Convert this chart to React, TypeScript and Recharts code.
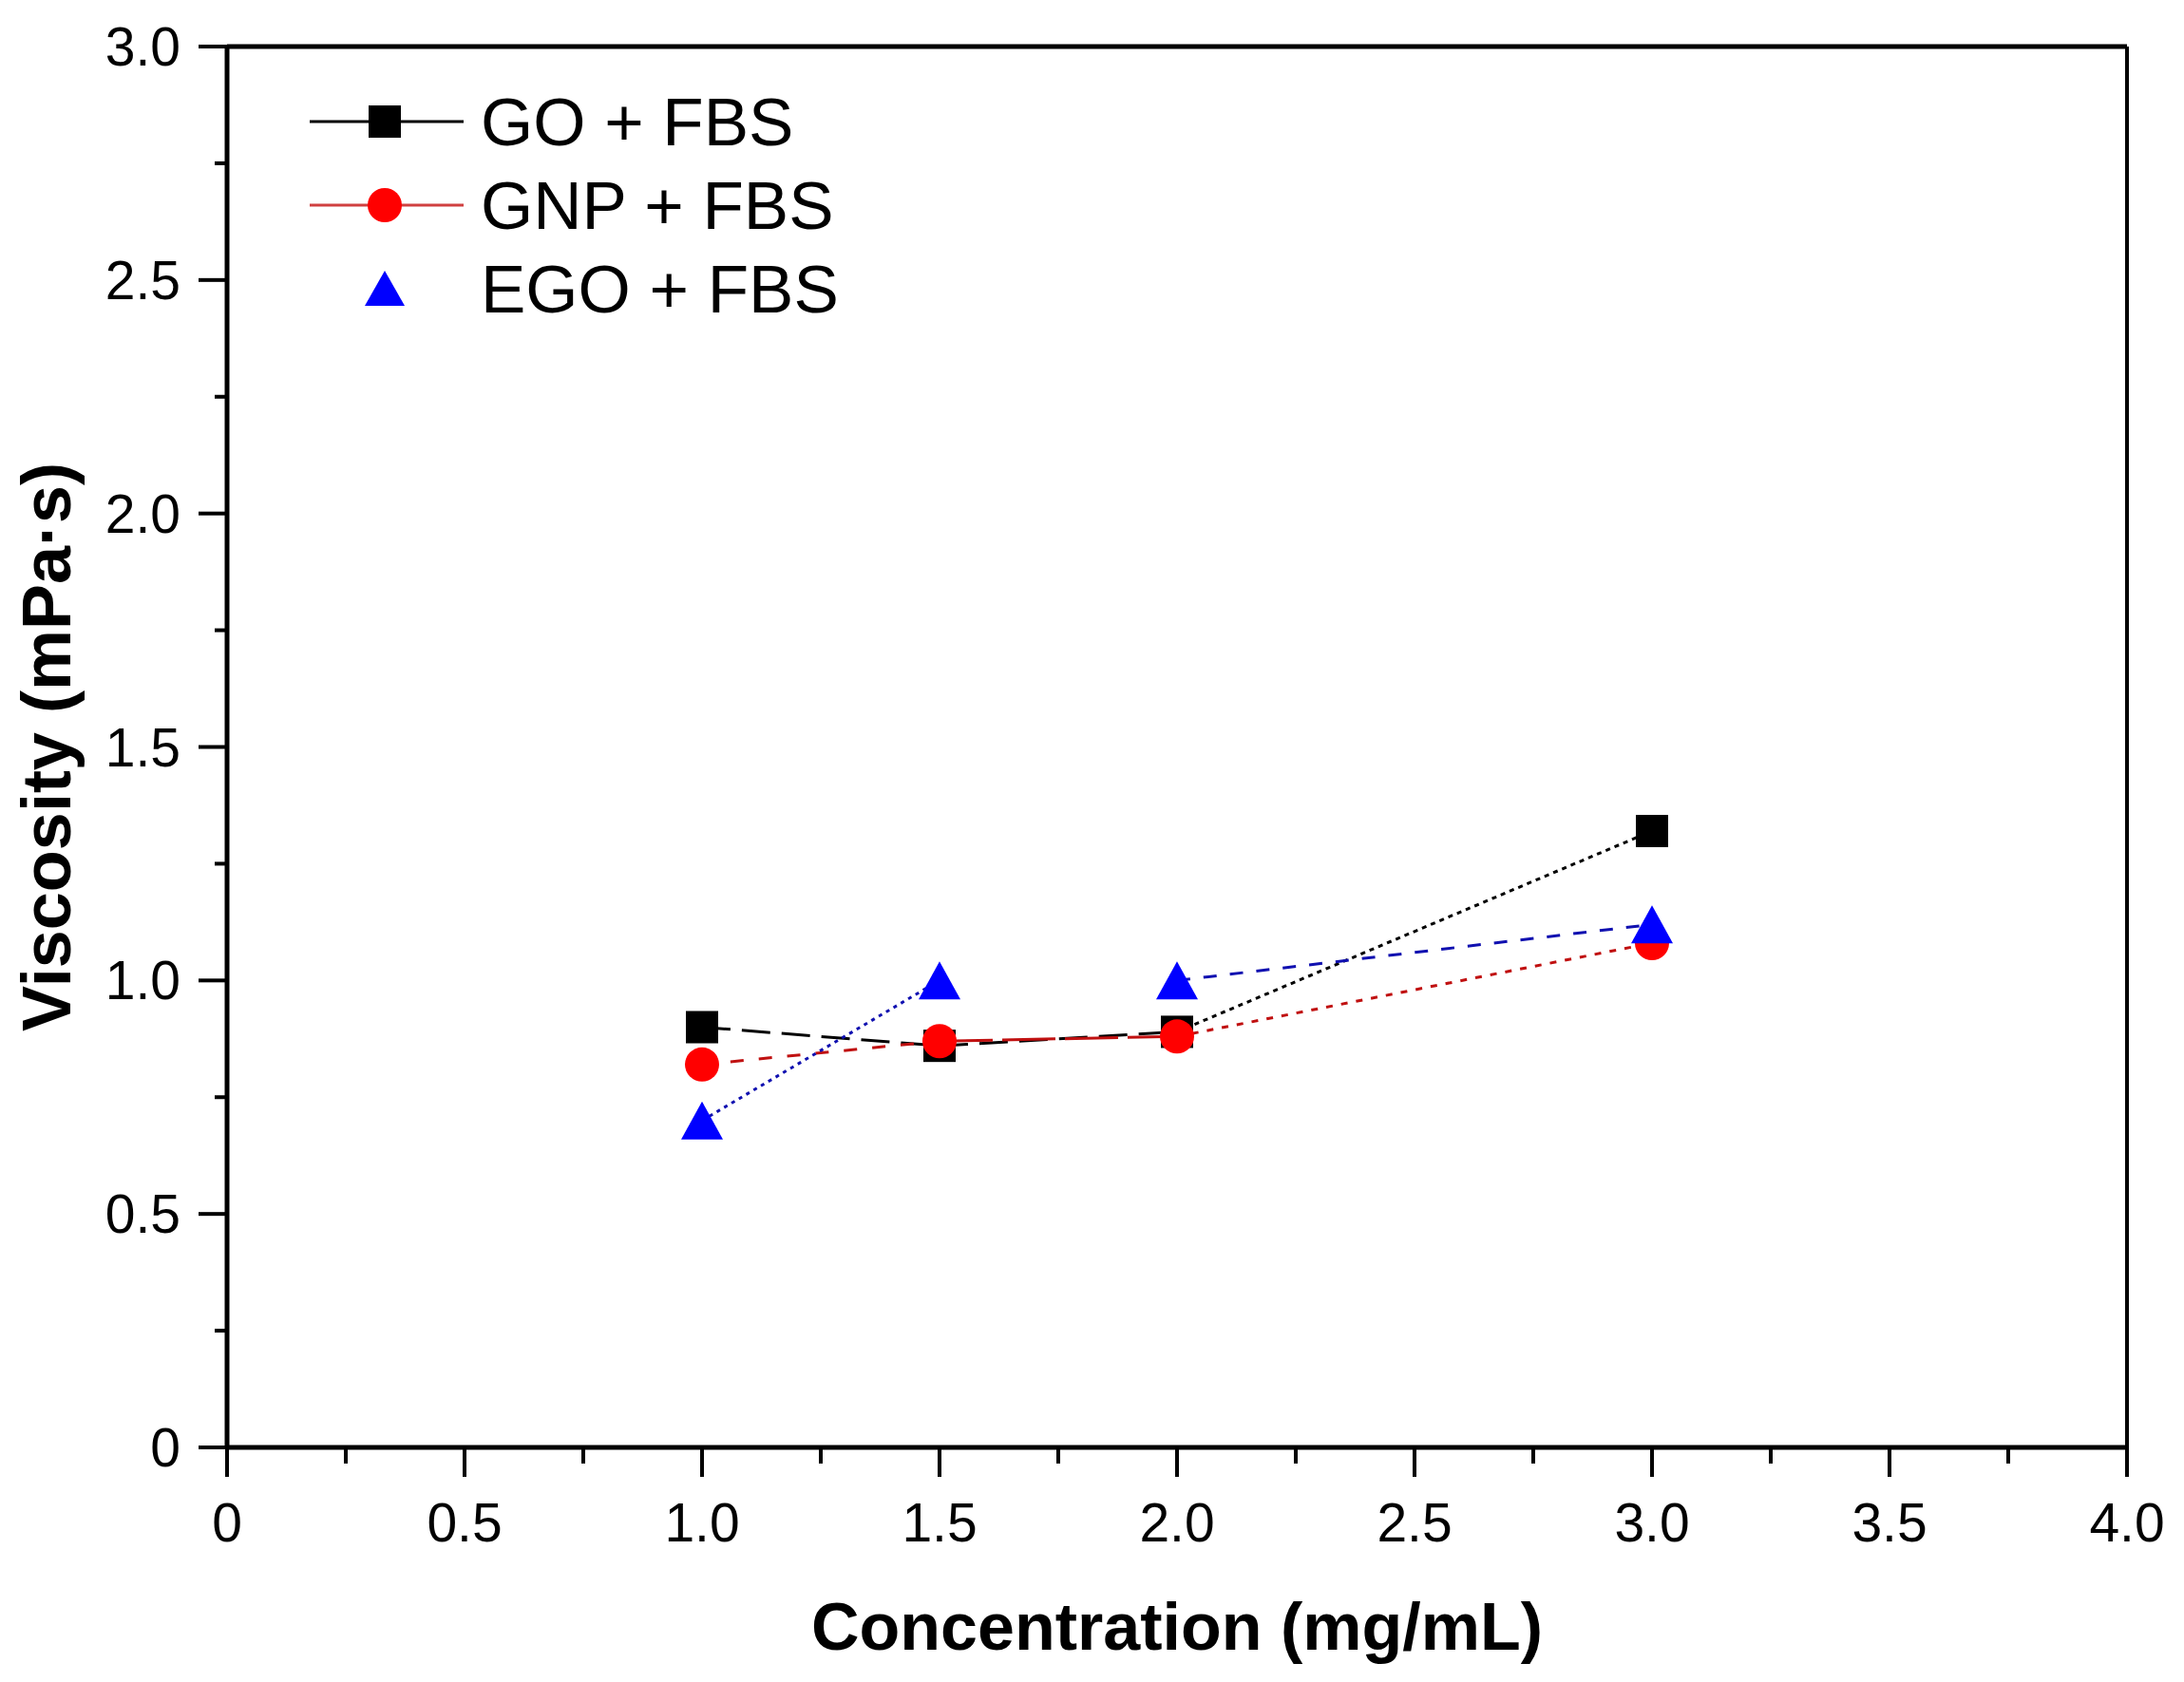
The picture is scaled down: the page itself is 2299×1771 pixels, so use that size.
import React from 'react';
import { ComposedChart, Line, XAxis, YAxis, ReferenceLine, Legend } from 'recharts';

// values
const concentration = [1.0, 1.5, 2.0, 3.0];
const goFbs = [0.9, 0.86, 0.89, 1.32];
const gnpFbs = [0.82, 0.87, 0.88, 1.08];
const egoFbs = [0.7, 1.0, 1.0, 1.12];

const seriesNames = ['GO + FBS', 'GNP + FBS', 'EGO + FBS'];

const xMajorTicks = [0, 0.5, 1, 1.5, 2, 2.5, 3, 3.5, 4];
const xMinorTicks = [0.25, 0.75, 1.25, 1.75, 2.25, 2.75, 3.25, 3.75];
const yMajorTicks = [0, 0.5, 1, 1.5, 2, 2.5, 3];
const yMinorTicks = [0.25, 0.75, 1.25, 1.75, 2.25, 2.75];

// dash style of each segment between neighbouring points (null = no line)
const goDash = ['30 12', '30 12', '5 5'];
const gnpDash = ['14 16', '56 10', '7 9'];
const egoDash = ['4 5', null, '14 14'];

const FONT = '"Liberation Sans", Arial, Helvetica, sans-serif';

const fmt = (v: number) => (v === 0 ? '0' : v.toFixed(1));

const toPoints = (values: number[]) =>
  concentration.map((c, i) => ({ x: c, y: values[i] }));

const toSegments = (values: number[], dashes: (string | null)[]) =>
  dashes
    .map((d, i) =>
      d
        ? {
            dash: d,
            data: [
              { x: concentration[i], y: values[i] },
              { x: concentration[i + 1], y: values[i + 1] },
            ],
          }
        : null
    )
    .filter(Boolean) as { dash: string; data: { x: number; y: number }[] }[];

const XTick = (p: any) => {
  const v = p.payload.value;
  const major = xMajorTicks.includes(v);
  return (
    <g>
      <line x1={p.x} x2={p.x} y1={p.y} y2={p.y + (major ? 31 : 17)} stroke="#000" strokeWidth={4} />
      {major && (
        <text x={p.x} y={p.y + 99} textAnchor="middle" fontSize={57} fontFamily={FONT} fill="#000">
          {fmt(v)}
        </text>
      )}
    </g>
  );
};

const YTick = (p: any) => {
  const v = p.payload.value;
  const major = yMajorTicks.includes(v);
  return (
    <g>
      <line x1={p.x - (major ? 30 : 13)} x2={p.x} y1={p.y} y2={p.y} stroke="#000" strokeWidth={4} />
      {major && (
        <text x={p.x - 49} y={p.y + 20} textAnchor="end" fontSize={57} fontFamily={FONT} fill="#000">
          {fmt(v)}
        </text>
      )}
    </g>
  );
};

const square = (p: any) => (
  <rect key={`sq-${p.index}`} x={p.cx - 17} y={p.cy - 17} width={34} height={34} fill="#000" />
);
const circle = (p: any) => (
  <ellipse key={`ci-${p.index}`} cx={p.cx} cy={p.cy} rx={18} ry={18} fill="#ff0000" />
);
const triangle = (p: any) => (
  <polygon
    key={`tr-${p.index}`}
    points={`${p.cx - 22},${p.cy + 20} ${p.cx + 22},${p.cy + 20} ${p.cx},${p.cy - 20}`}
    fill="#0000ff"
  />
);

const LegendBox = () => {
  const rows = [128, 216, 304];
  return (
    <svg width={900} height={380} style={{ display: 'block' }}>
      <line x1={326} x2={488} y1={rows[0]} y2={rows[0]} stroke="#000" strokeWidth={3} />
      <rect x={388} y={rows[0] - 17} width={34} height={34} fill="#000" />
      <line x1={326} x2={488} y1={rows[1]} y2={rows[1]} stroke="#d04040" strokeWidth={3} />
      <circle cx={405} cy={rows[1]} r={18} fill="#ff0000" />
      <polygon
        points={`${405 - 21},${rows[2] + 18} ${405 + 21},${rows[2] + 18} 405,${rows[2] - 19}`}
        fill="#0000ff"
      />
      {seriesNames.map((n, i) => (
        <text key={n} x={506} y={rows[i] + 25} fontSize={71} fontFamily={FONT} fill="#000">
          {n}
        </text>
      ))}
    </svg>
  );
};

const goSegs = toSegments(goFbs, goDash);
const gnpSegs = toSegments(gnpFbs, gnpDash);
const egoSegs = toSegments(egoFbs, egoDash);

export default function App() {
  return (
    <div style={{ position: 'absolute', left: 0, top: 0, width: 2299, height: 1771, background: '#fff' }}>
      <ComposedChart width={2299} height={1771} margin={{ top: 49, right: 60, bottom: 0, left: 0 }}>
        <XAxis
          type="number"
          dataKey="x"
          domain={[0, 4]}
          ticks={[...xMajorTicks, ...xMinorTicks].sort((a, b) => a - b)}
          interval={0}
          height={247}
          tickSize={0}
          tickMargin={0}
          tickLine={false}
          tick={<XTick />}
          axisLine={{ stroke: '#000', strokeWidth: 5 }}
          allowDataOverflow
          label={{
            value: 'Concentration (mg/mL)',
            position: 'insideBottom',
            offset: 34,
            style: { fontFamily: FONT, fontSize: 70, fontWeight: 'bold', fill: '#000' },
          }}
        />
        <YAxis
          type="number"
          domain={[0, 3]}
          ticks={[...yMajorTicks, ...yMinorTicks].sort((a, b) => a - b)}
          interval={0}
          width={239}
          tickSize={0}
          tickMargin={0}
          tickLine={false}
          tick={<YTick />}
          axisLine={{ stroke: '#000', strokeWidth: 5 }}
          allowDataOverflow
          label={{
            value: 'Viscosity (mPa·s)',
            angle: -90,
            position: 'insideLeft',
            offset: 48,
            style: { textAnchor: 'middle', fontFamily: FONT, fontSize: 72, fontWeight: 'bold', fill: '#000' },
          }}
        />
        <ReferenceLine y={3} stroke="#000" strokeWidth={5} />
        <ReferenceLine x={4} stroke="#000" strokeWidth={4} />

        {goSegs.map((s, i) => (
          <Line key={`go-${i}`} data={s.data} dataKey="y" stroke="#000" strokeWidth={3}
            strokeDasharray={s.dash} dot={false} activeDot={false} isAnimationActive={false} />
        ))}
        {gnpSegs.map((s, i) => (
          <Line key={`gnp-${i}`} data={s.data} dataKey="y" stroke="#c01010" strokeWidth={3}
            strokeDasharray={s.dash} dot={false} activeDot={false} isAnimationActive={false} />
        ))}
        {egoSegs.map((s, i) => (
          <Line key={`ego-${i}`} data={s.data} dataKey="y" stroke="#1010b0" strokeWidth={3}
            strokeDasharray={s.dash} dot={false} activeDot={false} isAnimationActive={false} />
        ))}

        <Line data={toPoints(goFbs)} dataKey="y" name={seriesNames[0]} stroke="none" dot={square}
          activeDot={false} isAnimationActive={false} />
        <Line data={toPoints(gnpFbs)} dataKey="y" name={seriesNames[1]} stroke="none" dot={circle}
          activeDot={false} isAnimationActive={false} />
        <Line data={toPoints(egoFbs)} dataKey="y" name={seriesNames[2]} stroke="none" dot={triangle}
          activeDot={false} isAnimationActive={false} />

        <Legend
          verticalAlign="middle"
          align="center"
          layout="horizontal"
          wrapperStyle={{ position: 'absolute', left: 0, top: 0, width: 900, height: 380 }}
          content={() => <LegendBox />}
        />
      </ComposedChart>
    </div>
  );
}
